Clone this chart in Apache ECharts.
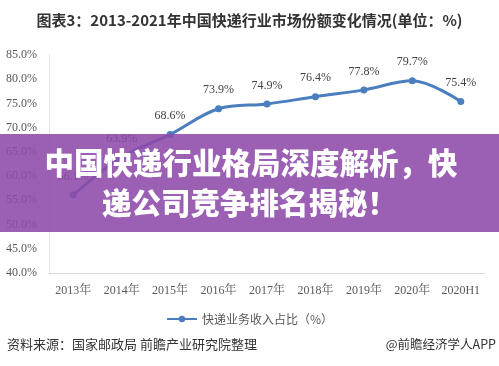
<!DOCTYPE html>
<html><head><meta charset="utf-8">
<script src="https://cdn.jsdelivr.net/npm/echarts@6/dist/echarts.min.js"></script>
<style>html,body{margin:0;padding:0;background:#fff}#c{width:499px;height:366px}</style>
</head><body><div id="c"></div>
<script>
const categories = ['2013年','2014年','2015年','2016年','2017年','2018年','2019年','2020年','2020H1'];
const shareValues = [56.1, 63.9, 68.6, 73.9, 74.9, 76.4, 77.8, 79.7, 75.4];
const seriesName = '快递业务收入占比（%）';
const titleText = '图表3：2013-2021年中国快递行业市场份额变化情况(单位：%)';
const bannerLines = ['中国快递行业格局深度解析，快', '递公司竞争排名揭秘！'];
const sourceText = '资料来源：国家邮政局 前瞻产业研究院整理';
const creditText = '@前瞻经济学人APP';

const chart = echarts.init(document.getElementById('c'), null, {renderer:'canvas'});
const serif = '"Liberation Serif","DejaVu Serif","Noto Serif CJK SC",serif';
const cjk = '"Noto Sans CJK SC","Noto Sans",sans-serif';
chart.setOption({
  backgroundColor:'#fff',
  animation:false,
  title:{text:titleText,left:'center',top:8,textStyle:{fontFamily:cjk,fontSize:15,fontWeight:'bold',color:'#333'}},
  grid:{left:49,right:14,top:55,bottom:93,containLabel:false},
  xAxis:{type:'category',data:categories,boundaryGap:true,
    axisLine:{lineStyle:{color:'#d9d9d9',width:1}},axisTick:{show:false},
    axisLabel:{interval:0,fontFamily:serif,fontSize:12,color:'#595959',margin:12}},
  yAxis:{type:'value',min:40,max:85,interval:5,
    axisLine:{show:true,lineStyle:{color:'#e3e3e3'}},axisTick:{show:false},splitLine:{show:false},
    axisLabel:{fontFamily:serif,fontSize:12,color:'#595959',margin:12,formatter:v=>v.toFixed(1)+'%'}},
  legend:{bottom:36,left:'center',itemWidth:30,itemHeight:8,
    textStyle:{fontFamily:cjk,fontSize:12,color:'#595959'},data:[seriesName]},
  series:[{name:seriesName,type:'line',data:shareValues,smooth:0.35,
    symbol:'circle',symbolSize:7,
    lineStyle:{color:'#4a7ebf',width:3},itemStyle:{color:'#4a7ebf'},
    label:{show:true,position:'top',distance:9,fontFamily:serif,fontSize:12,color:'#404040',formatter:p=>p.value.toFixed(1)+'%'}}],
  graphic:[
    {type:'rect',shape:{x:0,y:134,width:499,height:98},style:{fill:'rgba(141,73,170,0.88)'},z:100},
    {type:'text',x:251,y:163,style:{text:bannerLines[0],fill:'#fff',font:'900 29.5px '+cjk,textAlign:'center',textVerticalAlign:'middle',shadowBlur:3,shadowColor:'rgba(0,0,0,0.3)'},z:101},
    {type:'text',x:249.5,y:203,style:{text:bannerLines[1],fill:'#fff',font:'900 29.5px '+cjk,textAlign:'center',textVerticalAlign:'middle',shadowBlur:3,shadowColor:'rgba(0,0,0,0.3)'},z:101},
    {type:'text',x:7,y:344,style:{text:sourceText,fill:'#333',font:'13px '+cjk,textVerticalAlign:'middle'},z:101},
    {type:'text',x:496,y:344,style:{text:creditText,fill:'#333',font:'12.5px '+cjk,textAlign:'right',textVerticalAlign:'middle'},z:101}
  ]
});
</script></body></html>
